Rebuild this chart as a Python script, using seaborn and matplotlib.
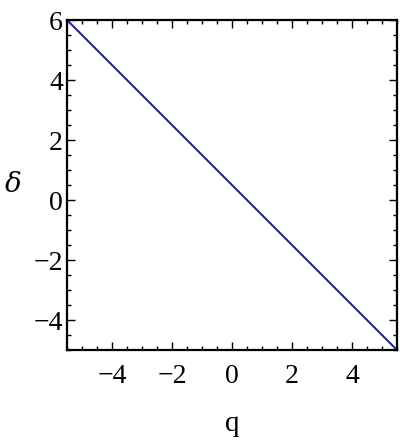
import matplotlib
matplotlib.use('Agg')
import matplotlib.pyplot as plt
import seaborn as sns
from matplotlib.ticker import MultipleLocator

# Data
q_vals = [-5.5, 5.5]
delta_vals = [6.0, -5.0]

sns.set_style('ticks')
plt.rcParams['font.family'] = ['Liberation Serif', 'DejaVu Serif']
plt.rcParams['mathtext.fontset'] = 'dejavuserif'
plt.rcParams['axes.unicode_minus'] = True

fig = plt.figure(figsize=(4.0, 4.41), dpi=100)
ax = fig.add_axes([0.1675, 0.2063, 0.825, 0.7483])

sns.lineplot(x=q_vals, y=delta_vals, ax=ax, color='#1a1aa0', linewidth=1.4)

ax.set_xlim(-5.5, 5.5)
ax.set_ylim(-5, 6)
ax.xaxis.set_major_locator(MultipleLocator(2))
ax.xaxis.set_minor_locator(MultipleLocator(0.5))
ax.yaxis.set_major_locator(MultipleLocator(2))
ax.yaxis.set_minor_locator(MultipleLocator(0.5))
ax.tick_params(which='both', direction='in', top=True, right=True, width=1.0,
               color='black', labelcolor='black', labelsize=20)
ax.tick_params(which='major', length=6)
ax.tick_params(which='minor', length=3)
ax.tick_params(axis='x', pad=10)
ax.tick_params(axis='y', pad=3)
for s in ax.spines.values():
    s.set_linewidth(1.6)
    s.set_color('black')
    s.set_visible(True)

ax.set_xlabel('q', fontsize=21, color='black', va='center')
ax.xaxis.set_label_coords(0.5, -0.225)
ax.set_ylabel(r'$\delta$', fontsize=20, rotation=0, color='black', va='center')
ax.yaxis.set_label_coords(-0.165, 0.5)

fig.savefig('out.png', dpi=100)
